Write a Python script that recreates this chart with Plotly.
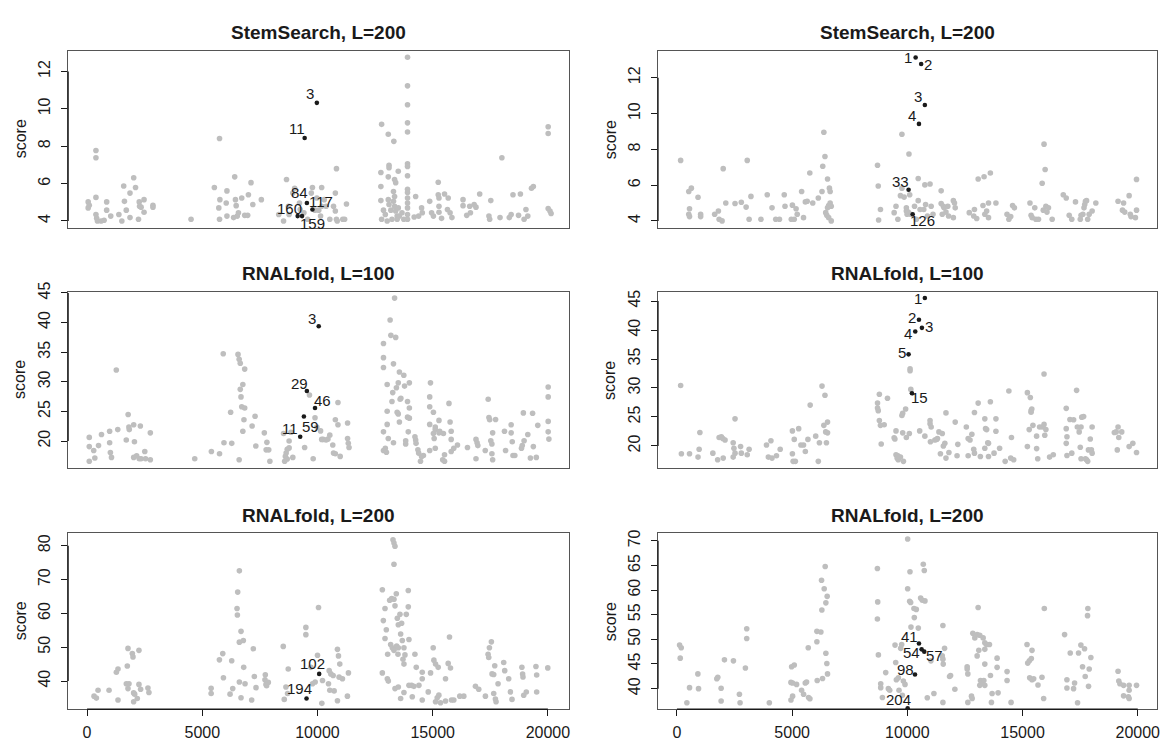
import plotly.graph_objects as go

# ---------------- data ----------------
TITLES = ["StemSearch, L=200", "StemSearch, L=200",
          "RNALfold, L=100", "RNALfold, L=100",
          "RNALfold, L=200", "RNALfold, L=200"]
X_TICKS = [0, 5000, 10000, 15000, 20000]
Y_TICKS = [[4, 6, 8, 10, 12], [4, 6, 8, 10, 12],
           [20, 25, 30, 35, 40, 45], [20, 25, 30, 35, 40, 45],
           [40, 50, 60, 70, 80], [40, 45, 50, 55, 60, 65, 70]]

# Panel 1: StemSearch L=200 (left)
p1_x = [48, 48, 96, 385, 385, 385, 385, 418, 450, 610, 739, 851, 851, 1028, 1381, 1510, 1590, 1622, 1702, 1863,
        1863, 2024, 2104, 2232, 2264, 2280, 2345, 2473, 2473, 2859, 2859, 4513, 5525, 5749, 5765, 5717, 5749, 6071,
        6039, 6071, 6360, 6408, 6440, 6472, 6520, 6569, 6713, 6841, 6970, 7002, 7115, 7195, 7564, 8319, 8528, 8656,
        8768, 8737, 8929, 9010, 9218, 9250, 9411, 9572, 9732, 9781, 9893, 9973, 10054, 10182, 10182, 10134, 10294,
        10375, 10535, 10696, 10776, 10776, 10824, 10824, 10857, 11097, 11258, 11178,
        12784, 12752, 12752, 12752, 12784, 12864, 12944, 13025, 13073, 13105, 13105, 13073, 13073, 13105, 13185,
        13233, 13314, 13346, 13394, 13298, 13346, 13298, 13346, 13394, 13458, 13458, 13506, 13506, 13555, 13667,
        13747, 13908, 13908, 13908, 13908, 13908, 13908, 13908, 13908, 13908, 13908, 13908, 13908, 13908, 13908,
        13908, 14261, 14197, 14390, 14518, 14550, 14871, 14952, 15032, 15241, 15241, 15273, 15273, 15273, 15385,
        15514, 15674, 15642, 15755, 15835, 16317, 16317, 16478, 16606, 16638, 16799, 16879, 17040, 17473, 17441,
        17522, 17923, 18003, 18324, 18405, 18485, 18726, 18807, 18967, 19047, 19128, 19288, 19369, 20012, 20012,
        20012, 20091, 20139]
p1_y = [5.02, 4.70, 4.84, 7.77, 7.38, 5.26, 4.35, 4.14, 4.00, 4.00, 4.04, 5.02, 4.58, 4.26, 4.35, 4.00, 5.87, 5.05,
        4.58, 4.18, 5.49, 6.31, 5.79, 4.09, 5.02, 4.79, 4.74, 5.14, 4.47, 4.84, 4.74, 4.09, 5.79, 8.41, 5.14, 4.70,
        4.09, 5.61, 4.96, 4.26, 4.18, 6.36, 5.14, 4.82, 4.26, 4.44, 5.23, 4.30, 4.30, 5.40, 6.05, 4.88, 5.14, 4.35,
        4.00, 6.22, 4.35, 4.79, 5.49, 5.75, 4.96, 4.61, 4.44, 4.09, 5.49, 5.79, 4.58, 5.23, 4.58, 5.79, 4.79, 4.26,
        5.14, 4.79, 4.09, 4.79, 4.53, 5.49, 6.80, 4.09, 4.00, 4.09, 4.91, 4.09,
        9.17, 6.59, 5.84, 5.09, 4.09, 4.58, 4.35, 4.00, 8.64, 6.98, 6.85, 6.36, 5.14, 4.88, 4.58,
        4.09, 8.26, 6.22, 6.05, 5.58, 5.31, 5.05, 4.79, 4.53, 4.26, 4.09, 6.66, 4.70, 4.26, 4.44,
        4.09, 12.76, 11.23, 10.22, 9.25, 8.76, 7.06, 6.92, 6.42, 5.70, 5.52, 5.23, 4.96, 4.70, 4.35,
        4.09, 5.31, 4.21, 4.26, 4.70, 4.44, 5.05, 4.44, 4.26, 6.07, 5.40, 5.23, 4.79, 4.47, 4.14,
        5.44, 5.23, 4.61, 4.44, 4.18, 5.14, 4.82, 4.30, 4.79, 4.44, 4.88, 4.74, 5.44, 4.09, 4.26,
        5.09, 4.18, 7.38, 4.18, 4.35, 5.40, 4.30, 5.44, 4.09, 4.61, 4.26, 5.75, 5.84, 9.04, 8.68,
        4.67, 4.53, 4.40]
p1_hx = [9973, 9444, 9540, 9781, 9140, 9330]
p1_hy = [10.32, 8.44, 4.96, 4.61, 4.26, 4.26]
p1_lab = ["3", "11", "84", "117", "160", "159"]

# Panel 2: StemSearch L=200 (right)
p2_x = [161, 514, 626, 546, 514, 546, 915, 1028, 1028, 1638, 1799, 1831, 1959, 2008, 2120, 2521, 2794, 3051, 3003,
        3132, 3212, 3646, 3919, 4127, 4288, 4449, 4657, 4690, 4963, 5011, 5091, 5171, 5220, 5412, 5493, 5573, 5653,
        5766, 5894, 6135, 6296, 6328, 6376, 6424, 6536, 6617, 6649, 6649, 6536, 6456, 6504, 6585, 6697, 6585, 6697,
        8705, 8737, 8753, 8833, 9427, 9507, 9588, 9700, 9764, 9764, 9860, 9957, 9957, 9989, 10038, 10070, 10102,
        10150, 10311, 10391, 10471, 10471, 10551, 10712, 10760, 10792, 10872, 10985, 11033, 11113,
        11467, 11467, 11563, 11515, 11595, 11676, 11756, 11788, 11997, 12045, 11997, 12077,
        12687, 12880, 12912, 13009, 13073, 13282, 13330, 13362, 13442, 13522, 13522, 13603, 13844,
        14326, 14406, 14486, 14567, 14647, 15321, 15369, 15418, 15530, 15578, 15691,
        15851, 15932, 15980, 15900, 16012, 16060, 16124, 16285, 16767, 16895, 17024, 17136, 17297,
        17505, 17538, 17618, 17666, 17698, 17730, 17778, 17827, 17891, 18019, 18180,
        19144, 19384, 19336, 19433, 19625, 19674, 19706, 19898, 19946, 19946]
p2_y = [7.38, 5.64, 5.83, 4.68, 4.37, 4.24, 5.32, 4.37, 4.24, 4.37, 4.55, 4.09, 4.00, 6.92, 5.00, 4.97, 5.04, 7.38,
        4.77, 4.09, 5.37, 4.09, 5.46, 4.73, 4.09, 4.09, 5.46, 4.82, 4.09, 4.88, 4.09, 4.68, 4.37, 5.64, 4.18, 5.06,
        5.10, 6.68, 5.00, 5.28, 5.64, 7.05, 8.95, 7.60, 6.34, 5.83, 5.64, 5.00, 4.73, 4.46, 4.31, 4.18, 4.00, 4.86,
        4.82,
        7.11, 5.95, 4.05, 4.64, 4.46, 4.82, 4.09, 5.41, 8.84, 5.83, 5.33, 4.73, 4.55, 4.37, 4.49, 7.74, 5.46,
        4.37, 4.82, 4.09, 5.13, 6.37, 4.64, 4.64, 6.01, 4.91, 4.27, 6.06, 4.82, 4.37,
        5.68, 4.97, 4.82, 4.37, 4.73, 4.49, 4.82, 4.27, 5.13, 5.00, 4.18, 4.73,
        4.46, 4.27, 4.64, 4.13, 6.34, 4.86, 6.47, 4.37, 4.55, 4.18, 5.00, 6.68, 5.00,
        4.37, 4.09, 4.24, 4.86, 4.73, 5.00, 4.31, 4.18, 4.73, 4.09, 4.09,
        6.10, 8.29, 6.87, 4.60, 4.82, 4.49, 4.73, 4.09, 5.46, 5.28, 4.31, 4.09, 5.06,
        4.09, 4.31, 4.37, 4.73, 4.91, 5.10, 5.13, 4.09, 4.37, 4.55, 5.00,
        5.10, 5.00, 4.60, 4.49, 5.41, 4.37, 4.24, 4.18, 6.32, 4.60]
p2_hx = [10359, 10600, 10760, 10503, 10053, 10230]
p2_hy = [13.13, 12.77, 10.48, 9.42, 5.74, 4.37]
p2_lab = ["1", "2", "3", "4", "33", "126"]

# Panel 3: RNALfold L=100 (left)
p3_x = [96, 96, 96, 289, 337, 498, 626, 980, 980, 1012, 1060, 1269, 1333, 1702, 1783, 1815, 1831, 2024, 2056, 2024,
        2152, 2264, 2313, 2345, 2505, 2537, 2746, 2746,
        4673, 5396, 5749, 5910, 5942, 6231, 6279, 6552, 6601, 6649, 6601, 6649, 6681, 6713, 6761, 6761, 6809, 6841,
        6841, 7163, 7291, 7324, 7693, 7805, 7773, 7885, 7934,
        8528, 8576, 8608, 8640, 8688, 8769, 8769, 8849, 8929, 8688, 9443, 9652, 9813, 9893, 9973, 10134, 10182,
        10246, 10375, 10455, 10535, 10664, 10696, 10776, 10889, 10776, 10889, 10985, 11306, 11306, 11338, 11370,
        12864, 12864, 12864, 12864, 12864, 12944, 12992, 13025, 13025, 13025, 13073, 13153, 13185, 13266, 13233,
        13298, 13298, 13346, 13394, 13426, 13458, 13506, 13506, 13555, 13555, 13587, 13619, 13747, 13779, 13828,
        13828, 13908, 13908, 13988, 13988, 13940, 13988, 14229, 14261, 14277, 14358, 14390, 14470, 14518, 14598,
        14904, 14871, 14871, 14871, 14871, 15032, 15032, 15064, 15112, 15112, 15112, 15273, 15273, 15305, 15466,
        15434, 15514, 15514, 15707, 15755, 15803, 15803, 15803, 15915, 16076, 16510, 16879, 16927, 16960, 16879,
        17281, 17409, 17441, 17473, 17522, 17570, 17570, 17602, 17602, 17730, 18116, 18163, 18405, 18405, 18453,
        18485, 18565, 18854, 18887, 18967, 18935, 19128, 19240, 19336, 19369, 19497, 19561, 20012, 20012, 20012,
        20012, 20043]
p3_y = [20.61, 19.06, 16.58, 18.40, 17.13, 19.23, 21.10, 21.66, 19.72, 18.07, 17.24, 31.98, 21.93, 20.17, 24.47,
        22.37, 21.93, 22.76, 19.89, 17.24, 17.52, 17.02, 22.54, 17.02, 18.23, 17.02, 21.38, 16.85,
        17.02, 18.23, 17.85, 34.74, 19.72, 24.86, 19.61, 34.62, 33.80, 33.13, 16.85, 28.72, 27.45, 25.79, 29.55,
        21.66, 23.59, 32.14, 25.57, 22.54, 24.19, 19.17, 21.38, 19.78, 18.51, 18.51, 16.58,
        21.27, 16.58, 17.41, 17.96, 18.62, 20.00, 18.84, 21.49, 17.24, 16.96, 18.90, 27.78, 17.02, 23.92, 22.37,
        21.71, 20.28, 20.28, 20.17, 20.33, 20.99, 19.34, 17.96, 17.85, 26.51, 23.59, 22.76, 17.41, 23.04, 20.44,
        19.61, 18.90,
        36.45, 34.07, 32.42, 21.55, 18.40, 18.79, 18.12, 29.55, 25.02, 22.81, 20.44, 40.42, 37.83, 28.17, 26.68,
        33.02, 19.72, 44.12, 37.49, 29.00, 24.86, 29.82, 24.58, 31.64, 23.20, 27.06, 27.23, 31.09, 29.27, 20.06,
        19.50, 26.68, 24.03, 29.82, 25.57, 21.55, 23.86, 20.72, 20.17, 19.61, 18.51, 17.96, 16.58, 17.41, 17.57,
        29.82, 27.45, 25.79, 22.81, 18.40, 24.86, 21.27, 20.44, 22.37, 21.93, 18.79, 23.48, 21.38, 21.66, 21.27,
        16.85, 16.58, 17.68, 26.35, 23.20, 21.66, 20.28, 18.23, 18.79, 19.34, 18.90, 20.28, 19.72, 19.23, 17.02,
        18.40, 27.06, 23.98, 23.59, 20.06, 19.50, 17.85, 16.85, 21.38, 23.64, 21.66, 18.40, 22.76, 21.38, 19.89,
        17.57, 17.57, 18.79, 19.23, 20.06, 24.75, 21.10, 17.13, 24.69, 19.06, 17.24, 22.65, 29.11, 27.45, 23.31,
        21.55, 20.33]
p3_hx = [10054, 9540, 9893, 9250, 9411]
p3_hy = [39.37, 28.44, 25.57, 20.72, 24.14]
p3_lab = ["3", "29", "46", "11", "59"]

# Panel 4: RNALfold L=100 (right)
p4_x = [161, 193, 546, 915, 964, 996, 1558, 1767, 1831, 1927, 1991, 2088, 2008, 2441, 2441, 2521, 2473, 2521, 2762,
        2794, 3051, 3132, 3887, 3967, 4079, 4127, 4320, 4481, 5011, 5011, 5043, 5091, 5139, 5284, 5380, 5493, 5573,
        5685, 5782, 6022, 6135, 6183, 6296, 6376, 6424, 6456, 6536, 6536, 6488,
        8705, 8705, 8737, 8785, 8785, 8833, 8865, 8994, 9138, 9427, 9459, 9507, 9507, 9556, 9588, 9604, 9700, 9797,
        9829, 9764, 9797, 9925, 9957, 10086, 10118, 10118, 10150, 10535, 10760, 10985, 10985, 11033, 11001, 11194,
        11274, 11306, 11370, 11435, 11515, 11563, 11627, 11676, 11676, 11804, 12077, 12157, 12190, 12559, 12639,
        12639, 12720, 12800, 12912, 12880, 12912, 13073, 13169, 13362, 13362, 13394, 13442, 13490, 13522, 13522,
        13603, 13763, 13844, 13844, 14004, 14245, 14406, 14486, 14518, 14615, 15209, 15209, 15289, 15337, 15369,
        15369, 15401, 15450, 15610, 15610, 15658, 15739, 15851, 15932, 15932, 15964, 16012, 16172, 16333, 16895,
        16895, 16927, 16895, 16927, 17056, 17136, 17216, 17345, 17377, 17457, 17538, 17505, 17538, 17570, 17650,
        17730, 17778, 17827, 17859, 17939, 17987, 18019, 18019, 18983, 19063, 19111, 19144, 19176, 19304, 19625,
        19786, 19946]
p4_y = [30.44, 18.65, 18.65, 18.08, 19.44, 22.31, 18.76, 17.63, 21.47, 21.58, 21.30, 21.02, 17.91, 20.56, 18.08,
        24.68, 19.60, 18.76, 19.89, 18.76, 18.48, 19.44, 20.17, 18.08, 20.90, 17.91, 18.31, 19.44, 22.60, 18.65,
        17.35, 21.13, 17.35, 22.99, 20.17, 20.17, 19.04, 21.13, 27.05, 21.69, 17.35, 20.56, 30.33, 23.56, 28.75,
        22.43, 24.12, 22.26, 20.56,
        27.39, 26.55, 26.09, 28.92, 24.40, 23.56, 20.34, 23.67, 28.24, 21.41, 21.19, 22.60, 18.48, 17.91, 18.31,
        17.63, 18.08, 25.64, 17.35, 25.25, 22.26, 26.38, 21.47, 22.14, 33.32, 32.98, 29.76, 22.60, 21.69, 24.40,
        23.84, 23.27, 20.73, 21.02, 21.13, 21.30, 22.43, 18.65, 22.14, 20.00, 20.45, 17.91, 25.70, 18.87, 24.12,
        18.31, 20.28, 23.27, 18.31, 21.30, 21.02, 22.03, 25.76, 19.44, 18.76, 27.39, 18.19, 19.60, 24.68, 22.99,
        22.82, 20.56, 20.45, 18.19, 27.62, 18.76, 24.68, 22.54, 19.60, 17.35, 29.48, 17.91, 21.47, 17.63, 19.89,
        29.20, 22.82, 28.35, 25.81, 26.09, 26.38, 23.56, 21.69, 19.55, 17.80, 23.27, 23.27, 32.42, 23.72, 21.86,
        22.82, 18.08, 18.48, 26.49, 22.99, 21.58, 20.45, 18.36, 24.57, 18.76, 24.51, 29.59, 23.27, 22.43, 23.27,
        19.77, 17.80, 24.97, 25.08, 17.80, 17.63, 17.35, 19.32, 21.19, 19.32, 23.27, 18.76, 22.31, 22.43, 19.32,
        23.27, 21.47, 22.43, 19.89, 20.45, 18.87]
p4_hx = [10760, 10503, 10632, 10343, 10053, 10198]
p4_hy = [45.51, 41.78, 40.37, 39.75, 35.80, 29.09]
p4_lab = ["1", "2", "3", "4", "5", "15"]

# Panel 5: RNALfold L=200 (left)
p5_x = [304, 405, 477, 954, 1343, 1271, 1343, 1747, 1776, 1704, 1819, 1776, 1964, 1993, 2252, 2252, 2324, 2021, 2065,
        2021, 2180, 2642, 2685, 5384, 5384, 5744, 5889, 5918, 6278, 6322, 6206, 6610, 6538, 6509, 6524, 6682, 6610,
        6783, 6798, 6610, 6856, 6682, 7144, 7216, 7260, 7332, 7736, 7721, 7765, 7866, 7793, 8515, 8731, 8630, 8702,
        8558, 9496, 9496, 10045, 9713, 9785, 9900, 10218, 10189, 10001, 10507, 10579, 10680, 10867, 10911, 10968,
        10939, 11084, 11343, 10478, 10535, 10723, 10867, 11300,
        12815, 12931, 12859, 12988, 12931, 12815, 13032, 13075, 13046, 13176, 13248, 13320, 13436, 13494, 13508,
        13133, 13219, 13320, 13364, 13421, 13465, 13508, 13580, 13652, 13277, 13320, 13364, 13320, 13609, 13681,
        13753, 13797, 13710, 13753, 13854, 13941, 13941, 13970, 13364, 13508, 13609, 13753, 13970, 14085, 14186,
        14114, 14229, 14287, 14403, 14547, 14547, 14547, 14807, 14908, 15023, 15052, 15124, 15239, 15196, 15268,
        15340, 15124, 15557, 15672, 15773, 15730, 15557, 15817, 15918, 16177, 16351, 16856, 17000, 17289, 17404,
        17433, 17462, 17548, 17577, 17649, 17649, 17693, 17722, 17750, 17837, 18082, 18126, 18299, 18371, 18443,
        18871, 18903, 18919, 18951, 19063, 19481, 19513, 19513, 19995]
p5_y = [35.56, 34.98, 37.29, 37.29, 34.40, 42.61, 43.57, 44.44, 49.66, 39.23, 39.23, 37.78, 48.12, 47.15, 49.08,
        39.03, 37.58, 36.52, 36.14, 33.91, 34.88, 37.97, 36.62, 37.87, 36.33, 46.28, 48.12, 40.97, 45.99, 37.78,
        36.14, 72.56, 66.28, 61.45, 59.52, 54.69, 51.50, 51.98, 44.06, 39.71, 39.23, 35.07, 34.40, 49.57, 41.35,
        38.07, 41.84, 40.39, 39.03, 39.61, 38.65, 50.24, 43.57, 38.26, 36.33, 34.59, 55.85, 53.72, 61.74, 44.06,
        39.23, 39.71, 40.19, 33.43, 47.63, 43.09, 42.13, 41.64, 49.37, 47.44, 45.02, 41.16, 40.68, 42.42, 39.23,
        37.29, 37.10, 34.20, 35.56,
        66.96, 61.45, 57.87, 55.17, 52.56, 42.42, 40.68, 40.00, 47.92, 50.82, 49.86, 49.08, 50.34, 47.92, 49.86,
        63.86, 64.35, 64.15, 62.22, 65.80, 58.55, 56.62, 59.71, 57.10, 81.74, 80.77, 79.81, 74.49, 53.91, 51.98,
        49.86, 47.73, 46.47, 45.02, 59.71, 66.76, 61.93, 52.27, 37.78, 38.26, 34.88, 36.62, 38.74, 38.74, 38.45,
        35.36, 47.92, 44.06, 38.74, 42.61, 40.68, 34.40, 36.81, 42.42, 49.86, 46.18, 45.02, 44.06, 35.07, 35.85,
        33.62, 33.91, 40.68, 45.22, 43.86, 53.04, 34.11, 34.40, 34.40, 35.56, 35.56, 38.45, 37.58, 35.56, 47.92,
        46.96, 49.86, 51.59, 42.13, 41.93, 36.33, 44.54, 34.69, 33.91, 39.23, 45.51, 43.09, 40.68, 36.81, 34.59,
        44.10, 42.10, 41.20, 35.80, 36.80, 44.30, 41.80, 36.80, 43.90]
p5_hx = [10074, 9525]
p5_hy = [42.13, 34.88]
p5_lab = ["102", "194"]

# Panel 6: RNALfold L=200 (right)
p6_x = [114, 186, 143, 431, 547, 908, 937, 1730, 1773, 1918, 1918, 2062, 2452, 2711, 2740, 2971, 3029, 3029, 4010,
        4948, 5020, 4977, 5092, 4948, 5020, 5193, 5410, 5496, 5569, 5626, 5713, 5771, 5699, 6074, 6247, 6074, 6088,
        6319, 6290, 6463, 6521, 6391, 6276, 6434, 6463, 6506, 6535,
        8700, 8714, 8700, 8743, 8844, 8844, 9061, 8917, 9176, 9234, 9465, 9494, 9523, 9609, 9638, 9753, 9710, 9826,
        9898, 9782, 10013, 10114, 10013, 10100, 10143, 10287, 10388, 10302, 10157, 10475, 10576, 10648, 10764,
        10691, 10735, 11023, 11153, 10865, 11543, 11615, 11514, 11543, 11557, 11543, 11875, 11832, 12062, 12596,
        12596, 12625, 12625, 12813, 12784, 12841, 12928, 13072, 13029, 13144, 13289, 13361, 13433, 13563, 13361,
        13029, 13101, 13361, 13173, 13245, 13144, 13318, 13361, 13606, 13678, 13649, 13895, 13895, 13938, 14328,
        14328, 14501, 15194, 15223, 15295, 15410, 15381, 15309, 15410, 15482, 15670, 15843, 15915, 15944, 16824,
        16925, 16925, 17069, 17214, 17257, 17387, 17430, 17531, 17690, 17603, 17719, 17834, 17820, 17892, 17964,
        17863, 19144, 19176, 19224, 19384, 19384, 19625, 19625, 19593, 19625, 19946]
p6_y = [48.83, 48.30, 46.18, 37.14, 40.20, 42.99, 40.00, 41.99, 42.32, 40.07, 37.48, 45.84, 45.64, 38.87, 37.14,
        44.18, 52.15, 50.16, 37.14, 37.68, 38.47, 44.45, 44.78, 41.26, 41.13, 40.86, 39.67, 38.87, 41.13, 41.33,
        38.21, 37.94, 48.30, 51.62, 51.49, 49.50, 41.66, 42.06, 55.94, 57.40, 58.72, 60.25, 61.98, 64.77, 47.17,
        45.11, 42.99,
        64.37, 57.60, 54.14, 46.84, 41.00, 40.20, 43.25, 38.21, 40.00, 39.67, 48.83, 45.31, 41.79, 42.19, 39.67,
        48.96, 48.17, 41.53, 40.86, 38.67, 70.35, 63.71, 60.25, 57.73, 57.46, 56.27, 56.07, 54.41, 52.48, 52.28,
        58.39, 57.93, 57.80, 65.23, 63.97, 45.64, 39.00, 38.14, 52.82, 48.17, 46.64, 45.98, 44.98, 37.21, 42.66,
        42.46, 39.87, 44.45, 43.98, 42.99, 37.21, 38.01, 38.47, 51.22, 50.29, 56.47, 50.96, 50.82, 50.29, 49.30,
        48.96, 48.96, 47.97, 46.64, 47.77, 44.98, 41.66, 41.33, 40.66, 41.66, 40.66, 42.66, 39.00, 37.21, 46.18,
        44.32, 39.14, 43.45, 41.66, 37.21, 48.96, 45.18, 45.64, 47.77, 46.11, 42.19, 41.79, 41.99, 40.73, 42.32,
        38.01, 56.27, 50.96, 41.79, 40.13, 47.24, 40.00, 41.13, 37.14, 47.24, 48.83, 48.10, 44.45, 42.46, 56.27,
        54.81, 43.98, 46.31, 40.46, 43.53, 41.53, 41.00, 40.67, 38.53, 40.67, 39.67, 38.33, 38.00, 40.67]
p6_hx = [10504, 10619, 10735, 10331, 10013]
p6_hy = [49.16, 47.97, 47.50, 42.86, 36.02]
p6_lab = ["41", "54", "57", "98", "204"]

GRAY_X = [p1_x, p2_x, p3_x, p4_x, p5_x, p6_x]
GRAY_Y = [p1_y, p2_y, p3_y, p4_y, p5_y, p6_y]
HIT_X = [p1_hx, p2_hx, p3_hx, p4_hx, p5_hx, p6_hx]
HIT_Y = [p1_hy, p2_hy, p3_hy, p4_hy, p5_hy, p6_hy]
HIT_LAB = [p1_lab, p2_lab, p3_lab, p4_lab, p5_lab, p6_lab]

# ---------------- layout / style ----------------
W, H = 1164, 741
FONT = "Liberation Sans, Arial, Helvetica, sans-serif"
COL_PX = [(68.3, 570.7), (659.7, 1160.0)]
ROW_PX = [(41.7, 221.7), (287.3, 466.7), (533.3, 712.7)]
X_RANGE = [[-822, 20926], [-822, 20835]]
Y_RANGE = [[3.65, 13.10], [3.63, 13.50], [15.47, 45.17], [16.22, 46.58], [31.69, 83.67], [35.82, 71.53]]
# label offsets in px (dx, dy up) for highlighted points
LAB_OFF = [
    [(-7, 9), (-8, 9), (-7, 11), (9, 8), (-8, 8), (10, -7)],
    [(-8, 0), (7, -1), (-7, 8), (-7, 8), (-8, 8), (10, -6)],
    [(-7, 8), (-7, 8), (7, 8), (-10, 8), (7, -10)],
    [(-7, 0), (-7, 2), (7, 1), (-7, -2), (-7, 2), (8, -4)],
    [(-7, 10), (-7, 10)],
    [(-9, 7), (-10, -3), (10, -4), (-9, 5), (-9, 9)],
]
GRAY = "#BEBEBE"
INK = "#1a1a1a"

fig = go.Figure()
shapes = []
annotations = []
layout = dict(width=W, height=H, margin=dict(l=0, r=0, t=0, b=0),
              paper_bgcolor="white", plot_bgcolor="white", showlegend=False,
              font=dict(family=FONT, size=16, color=INK))

for i in range(6):
    r, c = divmod(i, 2)
    n = i + 1
    xa = "x" if n == 1 else f"x{n}"
    ya = "y" if n == 1 else f"y{n}"
    x0p, x1p = COL_PX[c]
    y0p, y1p = ROW_PX[r]
    xdom = [x0p / W, x1p / W]
    ydom = [1 - y1p / H, 1 - y0p / H]
    bottom = (r == 2)

    fig.add_trace(go.Scatter(x=GRAY_X[i], y=GRAY_Y[i], mode="markers", xaxis=xa, yaxis=ya,
                             marker=dict(color=GRAY, size=5.6, line=dict(width=0)),
                             hoverinfo="skip"))
    fig.add_trace(go.Scatter(x=HIT_X[i], y=HIT_Y[i], mode="markers", xaxis=xa, yaxis=ya,
                             marker=dict(color=INK, size=4.6, line=dict(width=0)),
                             hoverinfo="skip"))

    layout["xaxis" if n == 1 else f"xaxis{n}"] = dict(
        domain=xdom, range=X_RANGE[c], anchor=ya, showgrid=False, zeroline=False,
        showline=True, mirror=True, linecolor="#555555", linewidth=1,
        tickmode="array", tickvals=X_TICKS if bottom else [],
        ticktext=[str(v) for v in X_TICKS] if bottom else [],
        ticks="outside" if bottom else "", ticklen=6, tickcolor=INK, tickwidth=1,
        showticklabels=bottom, tickfont=dict(family=FONT, size=16, color=INK),
        ticklabelstandoff=3)
    layout["yaxis" if n == 1 else f"yaxis{n}"] = dict(
        domain=ydom, range=Y_RANGE[i], anchor=xa, showgrid=False, zeroline=False,
        showline=True, mirror=True, linecolor="#555555", linewidth=1,
        tickmode="array", tickvals=Y_TICKS[i], ticktext=[str(v) for v in Y_TICKS[i]],
        ticks="outside", ticklen=6, tickcolor=INK, tickwidth=1, tickangle=-90,
        tickfont=dict(family=FONT, size=16, color=INK), ticklabelstandoff=5)

    # R-style axis line spanning first..last tick
    shapes.append(dict(type="line", xref=f"{xa} domain", yref=ya, x0=0, x1=0,
                       y0=Y_TICKS[i][0], y1=Y_TICKS[i][-1], line=dict(color=INK, width=1.3)))
    if bottom:
        shapes.append(dict(type="line", xref=xa, yref=f"{ya} domain", x0=X_TICKS[0], x1=X_TICKS[-1],
                           y0=0, y1=0, line=dict(color=INK, width=1.3)))

    # title
    annotations.append(dict(text=f"<b>{TITLES[i]}</b>", xref="paper", yref="paper",
                            x=(xdom[0] + xdom[1]) / 2, y=ydom[1], yshift=18,
                            xanchor="center", yanchor="middle", showarrow=False,
                            font=dict(family=FONT, size=19, color=INK)))
    # y label
    annotations.append(dict(text="score", xref="paper", yref="paper", x=xdom[0], xshift=-48,
                            y=(ydom[0] + ydom[1]) / 2, textangle=-90, xanchor="center",
                            yanchor="middle", showarrow=False,
                            font=dict(family=FONT, size=16, color=INK)))
    # point labels
    for hx, hy, lab, (dx, dy) in zip(HIT_X[i], HIT_Y[i], HIT_LAB[i], LAB_OFF[i]):
        annotations.append(dict(text=lab, x=hx, y=hy, xref=xa, yref=ya, xshift=dx, yshift=dy,
                                xanchor="center", yanchor="middle", showarrow=False,
                                font=dict(family=FONT, size=15, color=INK)))

layout["shapes"] = shapes
layout["annotations"] = annotations
fig.update_layout(**layout)
fig.write_html("out.html")
